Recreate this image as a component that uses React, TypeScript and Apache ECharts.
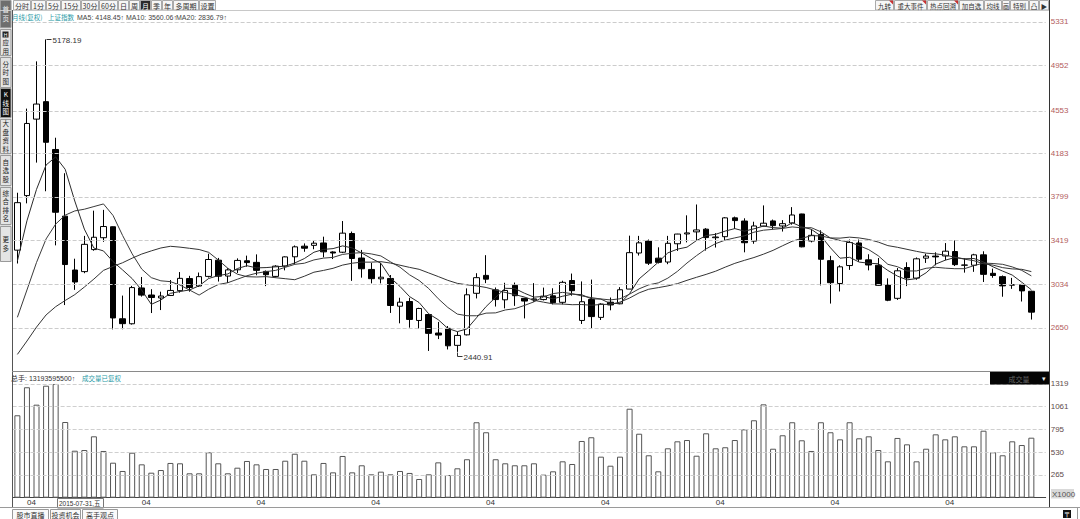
import React, { useEffect, useRef } from 'react';
import * as echarts from 'echarts';

// ---------- DATA ----------
// monthly candles, 2015-03 .. 2024-01
const startYear = 2015;
const startMonth = 3;
const opens = [3332, 3810, 4480, 4633, 4214, 3630, 3158, 3144, 3337, 3441,
  3537, 2731, 2687, 3001, 2939, 2913, 2935, 2977, 3083, 3018,
  3102, 3244, 3105, 3160, 3239, 3225, 3146, 3102, 3193, 3274,
  3367, 3374, 3395, 3316, 3314, 3478, 3263, 3163, 3081, 3084,
  2841, 2882, 2716, 2768, 2606, 2647, 2498, 2590, 2954, 3111,
  2984, 2897, 3024, 2910, 2897, 2899, 2932, 2875, 3066, 2716,
  2900, 2743, 2876, 2862, 2991, 3307, 3412, 3262, 3228, 3388,
  3474, 3492, 3516, 3441, 3450, 3615, 3587, 3411, 3543, 3588,
  3544, 3570, 3649, 3412, 3470, 3240, 3040, 3197, 3395, 3247,
  3200, 3027, 2910, 3180, 3087, 3262, 3280, 3281, 3320, 3200,
  3200, 3291, 3129, 3100, 3025, 3028, 2972];
const closes = [3748, 4442, 4612, 4277, 3664, 3206, 3053, 3383, 3445, 3539,
  2738, 2688, 3004, 2938, 2917, 2930, 2979, 3085, 3005, 3100,
  3250, 3104, 3159, 3242, 3223, 3155, 3117, 3192, 3273, 3361,
  3349, 3393, 3317, 3307, 3481, 3259, 3169, 3082, 3095, 2847,
  2876, 2725, 2821, 2603, 2588, 2494, 2585, 2941, 3091, 3078,
  2899, 2979, 2933, 2886, 2905, 2929, 2872, 3050, 2977, 2880,
  2750, 2860, 2852, 2985, 3310, 3396, 3218, 3225, 3392, 3473,
  3483, 3509, 3442, 3447, 3615, 3591, 3397, 3544, 3568, 3547,
  3564, 3640, 3361, 3462, 3252, 3047, 3186, 3399, 3253, 3202,
  3024, 2893, 3151, 3089, 3256, 3280, 3273, 3323, 3205, 3202,
  3291, 3120, 3110, 3019, 3030, 2975, 2789];
const lows = [3215, 3742, 4099, 3848, 3374, 2851, 2984, 3130, 3327, 3405,
  2638, 2639, 2680, 2925, 2781, 2807, 2930, 2960, 2968, 3010,
  3092, 3057, 3044, 3132, 3187, 3112, 3017, 3092, 3155, 3208,
  3318, 3340, 3269, 3254, 3306, 3063, 3091, 3041, 3041, 2782,
  2691, 2653, 2644, 2449, 2553, 2462, 2440.91, 2585, 2909, 3043,
  2838, 2822, 2844, 2734, 2880, 2891, 2857, 2857, 2933, 2685,
  2647, 2720, 2805, 2858, 2991, 3285, 3202, 3215, 3209, 3325,
  3400, 3420, 3328, 3355, 3413, 3518, 3313, 3388, 3540, 3515,
  3495, 3555, 3357, 3400, 3023, 2864, 2970, 3159, 3229, 3155,
  3021, 2885, 2896, 3017, 3073, 3220, 3199, 3244, 3193, 3135,
  3142, 3053, 3090, 2924, 2993, 2882, 2724];
const highs = [3835, 4572, 4986, 5178.19, 4317, 4006, 3257, 3457, 3678, 3685,
  3539, 2934, 3019, 3097, 2990, 2968, 3070, 3140, 3107, 3136,
  3301, 3264, 3174, 3260, 3284, 3295, 3154, 3200, 3277, 3373,
  3391, 3412, 3450, 3322, 3587, 3495, 3334, 3220, 3220, 3114,
  2915, 2915, 2827, 2771, 2703, 2667, 2618, 2997, 3130, 3288,
  3005, 3046, 3048, 2915, 3043, 3004, 2998, 3064, 3127, 3058,
  3074, 2866, 2917, 3008, 3459, 3457, 3425, 3357, 3457, 3475,
  3637, 3732, 3525, 3481, 3621, 3626, 3611, 3581, 3724, 3600,
  3595, 3709, 3651, 3515, 3506, 3282, 3200, 3425, 3425, 3296,
  3263, 3085, 3175, 3226, 3268, 3300, 3313, 3394, 3419, 3261,
  3300, 3322, 3170, 3110, 3089, 3037, 2976];
// closes of the 19 months before the first candle (for the moving averages)
const priorCloses = [2098, 2174, 2141, 2220, 2116, 2033, 2056, 2033, 2026, 2039,
  2048, 2201, 2217, 2363, 2420, 2683, 3235, 3210, 3310];
// volume (x1000 scale of the panel)
const volumes = [956, 1281, 1079, 1299, 1319, 878, 545, 553, 712, 542,
  406, 310, 522, 387, 290, 321, 403, 399, 283, 283,
  527, 399, 283, 348, 426, 387, 333, 333, 429, 510,
  429, 271, 403, 294, 484, 294, 376, 271, 302, 271,
  310, 287, 217, 271, 410, 263, 341, 446, 875, 759,
  446, 399, 376, 376, 399, 267, 306, 422, 391, 658,
  701, 476, 371, 476, 1032, 742, 492, 306, 573, 654,
  669, 487, 747, 573, 585, 669, 793, 898, 1083, 568,
  724, 875, 666, 542, 875, 759, 677, 875, 689, 712,
  553, 422, 693, 619, 422, 568, 735, 677, 712, 596,
  596, 777, 527, 492, 654, 611, 696];
const priceTicks = [5331, 4952, 4553, 4183, 3799, 3419, 3034, 2650];
const volumeTicks = [1319, 1061, 795, 530, 265];
const volumeUnit = 'X1000';
const legendTexts = ['MA5: 4148.45↑', 'MA10: 3560.06↑', 'MA20: 2836.79↑'];
const totalHands = '总手: 13193595500↑';
const cursorDate = '2015-07-31,五';
const cursorIndex = 4;

// ---------- helpers ----------
const months: string[] = [];
for (let k = 0; k < opens.length; k++) {
  const m = startMonth - 1 + k;
  const y = startYear + Math.floor(m / 12);
  const mm = (m % 12) + 1;
  months.push(`${y}-${String(mm).padStart(2, '0')}`);
}
const cats = [...months, ''];

function movingAverage(n: number) {
  const all = [...priorCloses, ...closes];
  return closes.map((_, i) => {
    const j = i + priorCloses.length;
    let s = 0;
    for (let k = j - n + 1; k <= j; k++) s += all[k];
    return +(s / n).toFixed(2);
  });
}

const FONT = '"Liberation Sans", "Noto Sans CJK SC", sans-serif';
const CJK = '"Noto Sans CJK SC", "Liberation Sans", sans-serif';

function txt(x: number, y: number, text: string, o: any = {}) {
  return {
    type: 'text', x, y, silent: true, z: 100,
    style: {
      text, fill: o.fill || '#222',
      font: `${o.size || 7}px ${o.family || CJK}`,
      textAlign: o.align || 'left', textVerticalAlign: o.valign || 'middle',
      align: o.align || 'left', verticalAlign: o.valign || 'middle',
    },
  };
}
function rect(x: number, y: number, w: number, h: number, fill: string, stroke?: string) {
  return {
    type: 'rect', silent: true, z: 90,
    shape: { x, y, width: w, height: h },
    style: { fill, stroke: stroke || 'none', lineWidth: 1 },
  };
}
function line(x1: number, y1: number, x2: number, y2: number, stroke: string, z = 95) {
  return {
    type: 'line', silent: true, z,
    shape: { x1, y1, x2, y2 },
    style: { stroke, lineWidth: 1 },
  };
}

function staticGraphics() {
  const g: any[] = [];
  // frame lines
  g.push(line(0, 10.5, 1049, 10.5, '#c8c8c8'));
  g.push(line(12.5, 10, 12.5, 507, '#555'));
  g.push(line(1049.5, 0, 1049.5, 507, '#333'));
  g.push(line(12, 371.5, 1049, 371.5, '#8a8a8a'));
  g.push(line(0, 507.5, 1080, 507.5, '#9a9a9a'));
  g.push(line(1077.5, 507, 1077.5, 519, '#9a9a9a'));

  // left side bar (vertical tabs, one glyph per line)
  g.push(rect(0, 0, 11.5, 262, '#dcdcdc'));
  const tabs = [
    { t: '首页', y0: 0, y1: 27, bg: '#6e6e6e', fg: '#f2f2f2' },
    { t: '应用', y0: 29, y1: 55, bg: '#e4e4e4', fg: '#222', icon: 'H' },
    { t: '分时图', y0: 57, y1: 87, bg: '#e4e4e4', fg: '#222' },
    { t: 'K线图', y0: 88, y1: 117, bg: '#111', fg: '#fff' },
    { t: '大盘资料', y0: 119, y1: 153, bg: '#e4e4e4', fg: '#222' },
    { t: '自选股', y0: 155, y1: 185, bg: '#e4e4e4', fg: '#222' },
    { t: '综合排名', y0: 187, y1: 224, bg: '#e4e4e4', fg: '#222' },
    { t: '更多', y0: 226, y1: 261, bg: '#e4e4e4', fg: '#222' },
  ];
  tabs.forEach((tb) => {
    g.push(rect(0.5, tb.y0 + 0.5, 10.5, tb.y1 - tb.y0, tb.bg, '#9a9a9a'));
    const chars = Array.from(tb.t);
    const step = 8.5;
    let top = tb.y0;
    let h = tb.y1 - tb.y0;
    if (tb.icon) {
      g.push(rect(2.5, tb.y0 + 2.5, 6, 6, '#222'));
      g.push(txt(5.5, tb.y0 + 5.5, tb.icon, { fill: '#fff', size: 5, align: 'center', family: FONT }));
      top = tb.y0 + 9;
      h = tb.y1 - top;
    }
    const start = top + (h - chars.length * step) / 2 + step / 2;
    chars.forEach((c, k) => {
      g.push(txt(5.8, start + k * step, c, { fill: tb.fg, size: 6.5, align: 'center' }));
    });
  });

  // top tool bar (left)
  const btns: [string, number, number, boolean?][] = [
    ['分时', 13, 30], ['1分', 31, 45], ['5分', 46, 60], ['15分', 61, 80], ['30分', 81, 98],
    ['60分', 99, 117], ['日', 118, 128], ['周', 129, 139], ['月', 140, 150, true], ['季', 151, 161],
    ['年', 162, 172], ['多周期', 173, 198], ['设置', 199, 215],
  ];
  btns.forEach(([t, a, b, act]) => {
    g.push(rect(a + 0.5, 0.5, b - a, 9.5, act ? '#2b2b2b' : '#f6f6f6', '#aaaaaa'));
    g.push(txt((a + b) / 2 + 0.5, 5.5, t, { fill: act ? '#fff' : '#333', size: 7, align: 'center' }));
  });
  // top tool bar (right)
  const rbtns: [string, number, number, boolean?][] = [
    ['九转', 875, 893, true], ['重大事件', 894, 926, true], ['热点回溯', 927, 958, true],
    ['加自选', 959, 983], ['均线', 984, 1001], ['画', 1002, 1009], ['特别', 1010, 1028],
    ['凸', 1029, 1038], ['▶', 1039, 1048],
  ];
  rbtns.forEach(([t, a, b, mark]) => {
    g.push(rect(a + 0.5, 0.5, b - a, 9.5, '#f6f6f6', '#aaaaaa'));
    g.push(txt((a + b) / 2 + 0.5, 5.5, t, { fill: '#333', size: 6.5, align: 'center' }));
    if (mark) {
      g.push({
        type: 'polygon', silent: true, z: 101,
        shape: { points: [[b - 4, 0.5], [b, 0.5], [b, 4.5]] },
        style: { fill: '#c83030' },
      });
    }
  });

  // legend row
  g.push(txt(12, 17, '月线(复权)', { fill: '#2a9aa6', size: 6.5 }));
  g.push(txt(48, 17, '上证指数', { fill: '#2a9aa6', size: 6.5 }));
  const lx = [77, 126, 176];
  legendTexts.forEach((t, i) => g.push(txt(lx[i], 17, t, { fill: '#444', size: 7, family: FONT })));

  // volume header
  g.push(txt(11, 378, totalHands, { fill: '#333', size: 7, family: FONT }));
  g.push(txt(82, 378, '成交量已复权', { fill: '#2a9aa6', size: 6.5 }));
  g.push(rect(990, 372, 59, 12.5, '#050505'));
  g.push(txt(1019, 378.5, '成交量', { fill: '#666', size: 7, align: 'center' }));
  g.push(txt(1044, 378, '▾', { fill: '#eee', size: 7, align: 'center' }));

  // bottom tabs
  const btabs: [string, number, number][] = [['股市直播', 12, 48], ['投资机会', 50, 80], ['高手观点', 82, 117]];
  btabs.forEach(([t, a, b]) => {
    g.push(rect(a + 0.5, 509.5, b - a, 10, '#fafafa', '#9a9a9a'));
    g.push(txt((a + b) / 2 + 0.5, 514.5, t, { fill: '#333', size: 7, align: 'center' }));
  });
  g.push(rect(1063, 510, 8, 8, '#111'));
  g.push(txt(1067, 514, '〒', { fill: '#fff', size: 6.5, align: 'center' }));
  return g;
}

export default function App() {
  const ref = useRef<HTMLDivElement>(null);
  useEffect(() => {
    if (!ref.current) return;
    const chart = echarts.init(ref.current, null, { renderer: 'svg' });
    const candles = opens.map((o, i) => [o, closes[i], lows[i], highs[i]]);
    const ma5 = movingAverage(5);
    const ma10 = movingAverage(10);
    const ma20 = movingAverage(20);
    const gridLeft = 12.6;
    const gridWidth = 1033.1;
    const option: any = {
      animation: false,
      backgroundColor: '#ffffff',
      textStyle: { fontFamily: FONT },
      grid: [
        { left: gridLeft, width: gridWidth, top: 10, height: 360, containLabel: false, outerBoundsMode: 'none' },
        { left: gridLeft, width: gridWidth, top: 372, height: 125.7, containLabel: false, outerBoundsMode: 'none' },
      ],
      xAxis: [
        {
          type: 'category', gridIndex: 0, data: cats, boundaryGap: true,
          axisLine: { show: false }, axisTick: { show: false }, axisLabel: { show: false }, splitLine: { show: false },
        },
        {
          type: 'category', gridIndex: 1, data: cats, boundaryGap: true,
          axisLine: { show: true, lineStyle: { color: '#444', width: 1 } },
          axisTick: { show: false }, splitLine: { show: false },
          axisLabel: {
            show: true, interval: (_: number, v: string) => typeof v === 'string' && v.endsWith('-04'),
            formatter: (v: string) => v.slice(5), align: 'left', margin: 1,
            fontSize: 8, color: '#333', fontFamily: FONT,
          },
        },
      ],
      yAxis: [
        {
          type: 'value', gridIndex: 0, min: 2282, max: 5436, position: 'right',
          axisLine: { show: false }, axisTick: { show: false }, axisLabel: { show: false }, splitLine: { show: false },
        },
        {
          type: 'value', gridIndex: 1, min: 0, max: 1458, position: 'right',
          axisLine: { show: false }, axisTick: { show: false }, axisLabel: { show: false }, splitLine: { show: false },
        },
      ],
      series: [
        {
          type: 'candlestick', xAxisIndex: 0, yAxisIndex: 0, data: candles, barWidth: 6, clip: false,
          itemStyle: { color: '#ffffff', color0: '#000000', borderColor: '#000000', borderColor0: '#000000', borderWidth: 1 },
          silent: true,
          markLine: {
            silent: true, symbol: ['none', 'none'], animation: false,
            lineStyle: { type: 'dashed', color: '#cccccc', width: 1 },
            label: {
              show: true, position: 'end', distance: 5, color: '#b35c5c', fontSize: 8, fontFamily: FONT,
              formatter: (p: any) => String(p.value),
            },
            emphasis: { disabled: true },
            data: priceTicks.map((v) => ({ yAxis: v })),
          },
        },
        { type: 'line', xAxisIndex: 0, yAxisIndex: 0, data: ma5, showSymbol: false, symbol: 'none', silent: true, z: 3, lineStyle: { width: 1, color: '#2a2a2a' } },
        { type: 'line', xAxisIndex: 0, yAxisIndex: 0, data: ma10, showSymbol: false, symbol: 'none', silent: true, z: 3, lineStyle: { width: 1, color: '#3a3a3a' } },
        { type: 'line', xAxisIndex: 0, yAxisIndex: 0, data: ma20, showSymbol: false, symbol: 'none', silent: true, z: 3, lineStyle: { width: 1, color: '#333333' } },
        {
          type: 'bar', xAxisIndex: 1, yAxisIndex: 1, data: volumes, barWidth: 6, clip: false, silent: true,
          itemStyle: { color: '#ffffff', borderColor: '#555555', borderWidth: 1 },
          markLine: {
            silent: true, symbol: ['none', 'none'], animation: false,
            lineStyle: { type: 'dashed', color: '#cfcfcf', width: 1 },
            label: {
              show: true, position: 'end', distance: 5, color: '#5e4a4a', fontSize: 8, fontFamily: FONT,
              formatter: (p: any) => String(p.value),
            },
            emphasis: { disabled: true },
            data: volumeTicks.map((v) => ({ yAxis: v })),
          },
        },
      ],
    };
    chart.setOption(option);

    // annotations derived from data through the axes
    let iMax = 0, iMin = 0;
    highs.forEach((h, i) => { if (h > highs[iMax]) iMax = i; });
    lows.forEach((l, i) => { if (l < lows[iMin]) iMin = i; });
    const pMax = chart.convertToPixel({ gridIndex: 0 }, [iMax, highs[iMax]]) as number[];
    const pMin = chart.convertToPixel({ gridIndex: 0 }, [iMin, lows[iMin]]) as number[];
    const pCur = chart.convertToPixel({ gridIndex: 1 }, [cursorIndex, 0]) as number[];
    const dyn: any[] = [];
    const mx = Math.round(pMax[0]) + 0.5, my = Math.round(pMax[1]) + 0.5;
    dyn.push(line(mx, my, mx + 5, my, '#333', 101));
    dyn.push(txt(mx + 6, my + 0.5, highs[iMax].toFixed(2), { fill: '#333', size: 8, family: FONT }));
    const nx = Math.round(pMin[0]) + 0.5, ny = Math.round(pMin[1]) + 0.5;
    dyn.push(line(nx, ny, nx, ny + 4, '#333', 101));
    dyn.push(line(nx, ny + 4, nx + 5, ny + 4, '#333', 101));
    dyn.push(txt(nx + 6, ny + 4.5, lows[iMin].toFixed(2), { fill: '#333', size: 8, family: FONT }));
    const cx = Math.round(pCur[0]) + 1.5;
    dyn.push(rect(cx, 498.5, 46, 9.5, '#ffffff', '#777'));
    dyn.push(txt(cx + 1.5, 503.5, cursorDate, { fill: '#333', size: 6.5, family: FONT }));
    // volume unit label at the zero line
    const yZero = Math.round(pCur[1]);
    dyn.push(rect(1051, yZero - 9, 23, 9.5, '#d9d9d9'));
    dyn.push(txt(1052, yZero - 4, volumeUnit, { fill: '#555', size: 8, family: FONT }));

    chart.setOption({ graphic: { elements: [...staticGraphics(), ...dyn] } });
    return () => chart.dispose();
  }, []);
  return <div ref={ref} style={{ position: 'fixed', left: 0, top: 0, width: 1080, height: 519, background: '#fff' }} />;
}
